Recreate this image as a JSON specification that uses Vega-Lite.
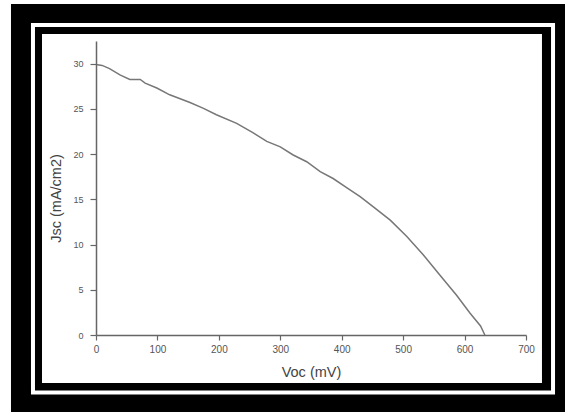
{
  "$schema": "https://vega.github.io/schema/vega-lite/v6.json",
  "width": 430,
  "height": 294,
  "autosize": {"type": "none"},
  "padding": {"left": 96, "top": 41, "right": 39, "bottom": 77},
  "background": "white",
  "config": {"view": {"stroke": null}, "font": "Liberation Sans"},
  "layer": [
    {
      "data": {"values": [{}]},
      "mark": {"type": "rect", "color": "black"},
      "encoding": {
        "x": {"datum": -138.4, "type": "quantitative"},
        "x2": {"datum": 1000},
        "y": {"datum": 36.59, "type": "quantitative"},
        "y2": {"datum": -50}
      }
    },
    {
      "data": {"values": [{}]},
      "mark": {"type": "rect", "fill": null, "fillOpacity": 0, "stroke": "white", "strokeWidth": 4},
      "encoding": {
        "x": {"datum": -102.6, "type": "quantitative"},
        "x2": {"datum": 744},
        "y": {"datum": 34.27, "type": "quantitative"},
        "y2": {"datum": -6.36}
      }
    },
    {
      "data": {"values": [{}]},
      "mark": {"type": "rect", "fill": "white"},
      "encoding": {
        "x": {"datum": -87.9, "type": "quantitative"},
        "x2": {"datum": 726},
        "y": {"datum": 33.27, "type": "quantitative"},
        "y2": {"datum": -5.31}
      }
    },
    {
      "data": {
        "values": [
          {"voc": 0, "jsc": 29.9},
          {"voc": 10, "jsc": 29.8},
          {"voc": 22, "jsc": 29.45},
          {"voc": 39, "jsc": 28.75},
          {"voc": 55, "jsc": 28.25},
          {"voc": 72, "jsc": 28.25},
          {"voc": 80, "jsc": 27.85},
          {"voc": 99, "jsc": 27.3},
          {"voc": 120, "jsc": 26.55},
          {"voc": 153, "jsc": 25.7},
          {"voc": 175, "jsc": 25.05},
          {"voc": 196, "jsc": 24.35},
          {"voc": 229, "jsc": 23.4},
          {"voc": 256, "jsc": 22.35},
          {"voc": 278, "jsc": 21.4},
          {"voc": 300, "jsc": 20.8},
          {"voc": 321, "jsc": 19.9},
          {"voc": 343, "jsc": 19.15},
          {"voc": 365, "jsc": 18.05},
          {"voc": 386, "jsc": 17.3},
          {"voc": 408, "jsc": 16.3},
          {"voc": 430, "jsc": 15.3},
          {"voc": 451, "jsc": 14.2},
          {"voc": 479, "jsc": 12.7},
          {"voc": 506, "jsc": 10.9},
          {"voc": 533, "jsc": 8.85},
          {"voc": 560, "jsc": 6.6},
          {"voc": 587, "jsc": 4.4},
          {"voc": 609, "jsc": 2.4},
          {"voc": 626, "jsc": 1.0},
          {"voc": 633, "jsc": 0}
        ]
      },
      "mark": {"type": "line", "color": "#777777", "strokeWidth": 1.5},
      "encoding": {
        "x": {
          "field": "voc",
          "type": "quantitative",
          "scale": {"domain": [0, 700], "nice": false, "zero": false},
          "axis": {
            "title": "Voc (mV)",
            "zindex": 2,
            "values": [0, 50, 100, 150, 200, 250, 300, 350, 400, 450, 500, 550, 600, 650, 700],
            "labelExpr": "datum.value % 100 === 0 ? datum.label : ''",
            "grid": false,
            "domainColor": "#666666",
            "domainWidth": 1.5,
            "tickColor": "#666666",
            "tickWidth": 1.2,
            "tickSize": {"condition": {"test": "datum.value % 100 === 0", "value": 5}, "value": 3},
            "labelColor": "#555555",
            "labelFontSize": 10,
            "labelPadding": 4,
            "labelFlush": false,
            "titleFontSize": 14.5,
            "titleFontWeight": "normal",
            "titleColor": "#444444",
            "titleBaseline": "middle",
            "titleY": 37
          }
        },
        "y": {
          "field": "jsc",
          "type": "quantitative",
          "scale": {"domain": [0, 32.5], "nice": false, "zero": false},
          "axis": {
            "title": "Jsc (mA/cm2)",
            "zindex": 2,
            "values": [0, 2.5, 5, 7.5, 10, 12.5, 15, 17.5, 20, 22.5, 25, 27.5, 30, 32.5],
            "labelExpr": "datum.value % 5 === 0 ? datum.label : ''",
            "grid": false,
            "domainColor": "#666666",
            "domainWidth": 1.5,
            "tickColor": "#666666",
            "tickWidth": 1.2,
            "tickSize": {"condition": {"test": "datum.value % 5 === 0", "value": 6}, "value": 3},
            "labelColor": "#555555",
            "labelFontSize": 9,
            "labelPadding": 7,
            "labelFlush": false,
            "titleFontSize": 14.5,
            "titleFontWeight": "normal",
            "titleColor": "#444444",
            "titleBaseline": "middle",
            "titleAngle": -90,
            "titleX": -40,
            "titleY": 157
          }
        }
      }
    }
  ]
}
